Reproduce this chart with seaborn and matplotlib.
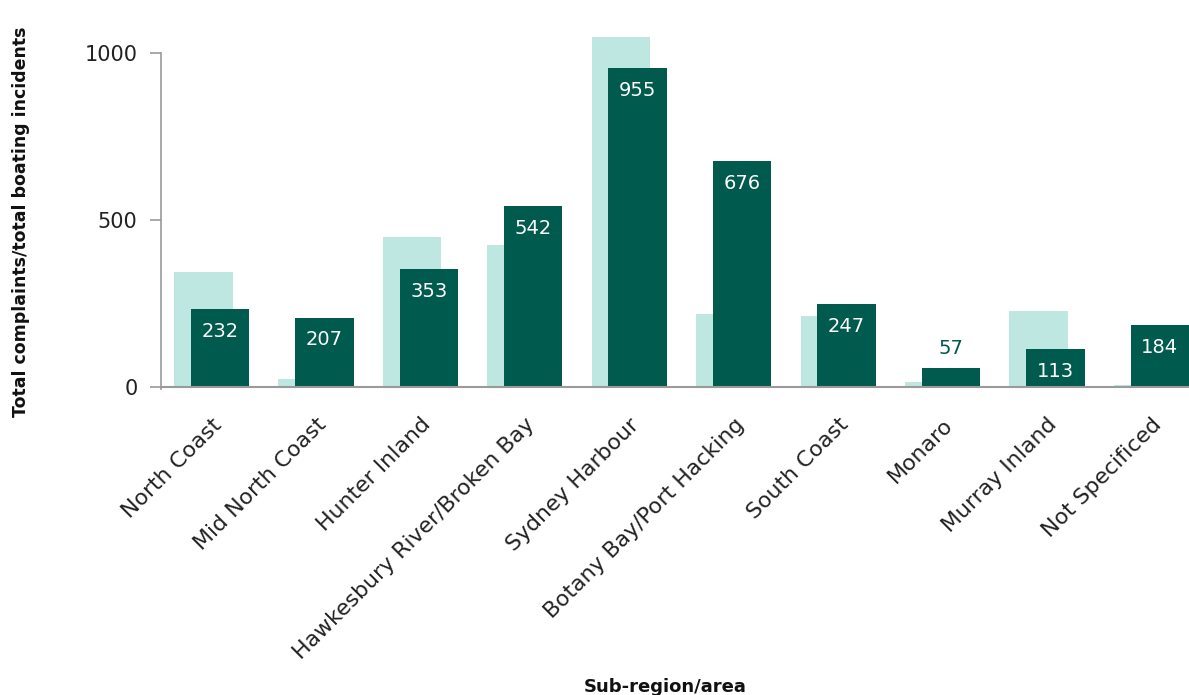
import numpy as np
import pandas as pd
import matplotlib
matplotlib.use("Agg")
import matplotlib.pyplot as plt
import seaborn as sns

categories = ["North Coast", "Mid North Coast", "Hunter Inland",
              "Hawkesbury River/Broken Bay", "Sydney Harbour",
              "Botany Bay/Port Hacking", "South Coast", "Monaro",
              "Murray Inland", "Not Specificed"]
background_values = [345, 23, 448, 424, 1047, 219, 212, 14, 227, 6]
complaints = [232, 207, 353, 542, 955, 676, 247, 57, 113, 184]
y_ticks = [0, 500, 1000]

sns.set_theme(style="white")
plt.rcParams["font.family"] = ["DejaVu Sans"]

LIGHT = "#bfe7e1"
DARK = "#005a4e"
GRAY = "#9a9a9a"
OFFSET = 0.08
WIDTH = 0.56

fig = plt.figure(figsize=(11.89, 6.95), dpi=100)
ax = fig.add_axes([0.1354, 0.4436, 0.8646, 0.509])

idx = np.arange(len(categories))
df = pd.DataFrame({"cat": categories, "pos": idx,
                   "light": background_values, "dark": complaints})

sns.barplot(x=df["pos"] - OFFSET, y=df["light"], native_scale=True, width=WIDTH,
            color=LIGHT, saturation=1, errorbar=None, linewidth=0, ax=ax)
sns.barplot(x=df["pos"] + OFFSET, y=df["dark"], native_scale=True, width=WIDTH,
            color=DARK, saturation=1, errorbar=None, linewidth=0, ax=ax)

for i, v in enumerate(complaints):
    if v >= 100:
        ax.annotate(str(v), xy=(i + OFFSET, v), xytext=(0, -16),
                    textcoords="offset points", ha="center", va="center",
                    color="white", fontsize=14)
    else:
        ax.annotate(str(v), xy=(i + OFFSET, v), xytext=(0, 14),
                    textcoords="offset points", ha="center", va="center",
                    color=DARK, fontsize=14)

ax.set_xlim(-0.485, 9.36)
ax.set_ylim(0, 1060)
ax.set_yticks(y_ticks)
ax.set_yticklabels([str(t) for t in y_ticks], fontsize=15, color="#222222")
ax.set_xticks(idx)
ax.set_xticklabels(categories, rotation=45, ha="right", rotation_mode="anchor",
                   fontsize=15.8, color="#222222")
ax.tick_params(axis="x", length=0, pad=20)
ax.tick_params(axis="y", length=8, width=1.2, color=GRAY, pad=9, left=True)

for s in ["top", "right"]:
    ax.spines[s].set_visible(False)
ax.spines["left"].set_color(GRAY)
ax.spines["left"].set_linewidth(1.2)
ax.spines["left"].set_bounds(-8, 1000)
ax.spines["bottom"].set_color(GRAY)
ax.spines["bottom"].set_linewidth(1.5)

ax.set_ylabel("Total complaints/total boating incidents", fontsize=12.5,
              fontweight="bold", color="#111111")
ax.yaxis.set_label_coords(-0.127, 0.466)
ax.set_xlabel("Sub-region/area", fontsize=13, fontweight="bold", color="#111111")
ax.xaxis.label.set_va("center")
ax.xaxis.set_label_coords((665 - 161) / 1028, (386.7 - 686) / 353)

fig.savefig("out.png", dpi=100)
